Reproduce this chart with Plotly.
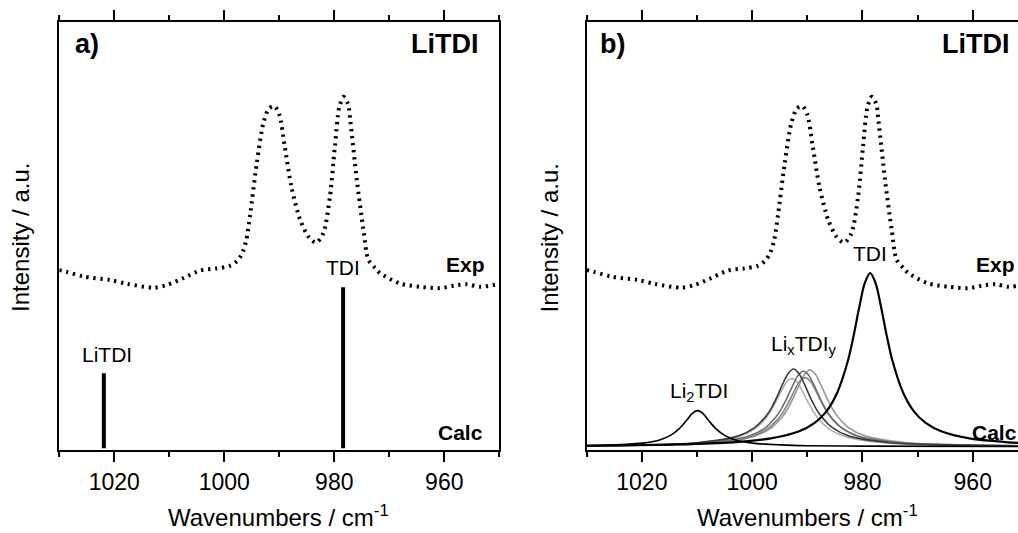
import plotly.graph_objects as go

# ---------------- data ----------------
# Experimental spectrum (same in both panels): wavenumber / intensity (a.u.)
exp_wn = [1030, 1028.7, 1025.6, 1020.8, 1017.7, 1012.9, 1010.5, 1007.5, 1004.4, 1001.4,
          999.0, 997.7, 996.8, 996.0, 995.3, 994.1, 992.9, 991.9, 990.9, 990.0,
          989.0, 987.8, 986.2, 984.7, 983.3, 982.0, 980.8, 979.9, 979.1, 978.3,
          977.5, 977.1, 975.9, 974.7, 973.8, 972.6, 971.7, 968.1, 964.4, 960.8,
          957.7, 955.9, 953.5, 950]
exp_int = [0.420, 0.416, 0.405, 0.397, 0.388, 0.379, 0.385, 0.401, 0.419, 0.424,
           0.430, 0.441, 0.458, 0.490, 0.550, 0.669, 0.763, 0.797, 0.803, 0.783,
           0.708, 0.615, 0.537, 0.498, 0.484, 0.506, 0.591, 0.708, 0.800, 0.825,
           0.808, 0.770, 0.630, 0.514, 0.444, 0.425, 0.413, 0.389, 0.381, 0.378,
           0.385, 0.387, 0.381, 0.388]

# Panel a: calculated stick spectrum
stick_wn = [1021.9, 978.4]
stick_int = [0.179, 0.380]
stick_labels = ["LiTDI", "TDI"]

# Panel b: calculated band profiles
tdi_wn = [1030, 1013.6, 1003.6, 996.6, 991.6, 988.6, 986.6, 984.6, 982.6, 981.6, 980.6,
          979.6, 978.6, 977.6, 976.6, 975.6, 974.6, 972.6, 970.6, 968.6, 965.6, 960.6,
          953.6, 950]
tdi_int = [0.010, 0.013, 0.018, 0.027, 0.043, 0.064, 0.089, 0.133, 0.210, 0.267, 0.332,
           0.389, 0.413, 0.389, 0.332, 0.267, 0.210, 0.133, 0.089, 0.064, 0.043, 0.027,
           0.018, 0.016]

li2_wn = [1030, 1024.9, 1019.9, 1016.9, 1014.9, 1013.2, 1011.9, 1010.9, 1009.9, 1008.9,
          1007.9, 1006.6, 1004.9, 1002.9, 999.9, 994.9, 989.9, 979.9, 950]
li2_int = [0.010, 0.012, 0.016, 0.023, 0.0335, 0.050, 0.069, 0.085, 0.092, 0.085,
           0.069, 0.050, 0.0335, 0.023, 0.016, 0.012, 0.010, 0.009, 0.008]

g1_wn = [1030, 1010, 1002.5, 999.5, 997.5, 996.5, 995.5, 994.5, 993.5, 992.5, 991.5,
         990.5, 989.5, 988.5, 987.5, 985.5, 982.5, 975, 965, 950]
g1_int = [0.010, 0.017, 0.033, 0.053, 0.079, 0.0985, 0.124, 0.153, 0.178, 0.189, 0.178,
          0.153, 0.124, 0.0985, 0.079, 0.053, 0.033, 0.017, 0.012, 0.0096]

g2_wn = [1030, 1008.2, 1000.7, 997.7, 995.7, 994.7, 993.7, 992.7, 991.7, 990.7, 989.7,
         988.7, 987.7, 986.7, 985.7, 983.7, 980.7, 973.2, 963.2, 950]
g2_int = [0.0098, 0.017, 0.032, 0.051, 0.077, 0.096, 0.121, 0.149, 0.174, 0.184, 0.174,
          0.149, 0.121, 0.096, 0.077, 0.051, 0.032, 0.017, 0.012, 0.0098]

g3_wn = [1030, 1007.0, 999.5, 996.5, 994.5, 993.5, 992.5, 991.5, 990.5, 989.5, 988.5,
         987.5, 986.5, 985.5, 984.5, 982.5, 979.5, 972.0, 962.0, 950]
g3_int = [0.0098, 0.017, 0.033, 0.052, 0.078, 0.0975, 0.123, 0.151, 0.176, 0.187, 0.176,
          0.151, 0.123, 0.0975, 0.078, 0.052, 0.033, 0.017, 0.012, 0.0098]

g4_wn = [1030, 1010.3, 1002.8, 999.8, 997.8, 996.8, 995.8, 994.8, 993.8, 992.8, 991.8,
         990.8, 989.8, 988.8, 987.8, 985.8, 982.8, 975.3, 965.3, 950]
g4_int = [0.0098, 0.0159, 0.030, 0.047, 0.070, 0.0875, 0.110, 0.135, 0.158, 0.167, 0.158,
          0.135, 0.110, 0.0875, 0.070, 0.047, 0.030, 0.0159, 0.011, 0.0094]

g5_wn = [1030, 1007.9, 1000.4, 997.4, 995.4, 994.4, 993.4, 992.4, 991.4, 990.4, 989.4,
         988.4, 987.4, 986.4, 985.4, 983.4, 980.4, 972.9, 962.9, 950]
g5_int = [0.0098, 0.016, 0.030, 0.048, 0.071, 0.0885, 0.111, 0.137, 0.160, 0.169, 0.160,
          0.137, 0.111, 0.0885, 0.071, 0.048, 0.030, 0.016, 0.011, 0.0094]

gray_series = [(g4_wn, g4_int, "#b0b0b0"), (g3_wn, g3_int, "#9a9a9a"),
               (g5_wn, g5_int, "#858585"), (g2_wn, g2_int, "#6e6e6e"),
               (g1_wn, g1_int, "#3c3c3c")]

tick_vals = [1020, 1000, 980, 960]
tick_text = ["1020", "1000", "980", "960"]
minor_vals = [1030, 1010, 990, 970, 950]

# ---------------- figure ----------------
W, H = 1018, 533
FONT = "Liberation Sans"
DOT = dict(color="black", width=4, dash="2.3px,4.7px", shape="spline", smoothing=0.8)

fig = go.Figure()

# panel a
fig.add_trace(go.Scatter(x=exp_wn, y=exp_int, mode="lines", xaxis="x", yaxis="y",
                         line=DOT, showlegend=False, hoverinfo="skip"))
for w, h in zip(stick_wn, stick_int):
    fig.add_trace(go.Scatter(x=[w, w], y=[0.004, h], mode="lines", xaxis="x", yaxis="y",
                             line=dict(color="black", width=4),
                             showlegend=False, hoverinfo="skip"))

# panel b
fig.add_trace(go.Scatter(x=exp_wn, y=exp_int, mode="lines", xaxis="x2", yaxis="y2",
                         line=DOT, showlegend=False, hoverinfo="skip"))
for xs, ys, col in gray_series:
    fig.add_trace(go.Scatter(x=xs, y=ys, mode="lines", xaxis="x2", yaxis="y2",
                             line=dict(color=col, width=1.6, shape="spline", smoothing=0.8),
                             showlegend=False, hoverinfo="skip"))
fig.add_trace(go.Scatter(x=li2_wn, y=li2_int, mode="lines", xaxis="x2", yaxis="y2",
                         line=dict(color="black", width=1.6, shape="spline", smoothing=0.8),
                         showlegend=False, hoverinfo="skip"))
fig.add_trace(go.Scatter(x=tdi_wn, y=tdi_int, mode="lines", xaxis="x2", yaxis="y2",
                         line=dict(color="black", width=2.2, shape="spline", smoothing=0.8),
                         showlegend=False, hoverinfo="skip"))

ydom = [1 - 450 / H, 1 - 21.7 / H]
xa_dom = [59.3 / W, 499.3 / W]
xb_dom = [586.7 / W, 1.0]
xb_right = 1030 - (W - 586.7) / 5.515

def xaxis_style(dom, rng, anchor):
    return dict(domain=dom, range=rng, anchor=anchor, tickmode="array",
                tickvals=tick_vals, ticktext=tick_text, ticks="outside", ticklen=10,
                tickwidth=2, tickcolor="black", showline=True, linewidth=2,
                linecolor="black", mirror="allticks", showgrid=False, zeroline=False,
                tickfont=dict(family=FONT, size=23, color="black"),
                minor=dict(tickmode="array", tickvals=minor_vals, ticks="outside",
                           ticklen=5, tickwidth=2, tickcolor="black", showgrid=False))

def yaxis_style(anchor, mirror):
    return dict(domain=ydom, range=[0, 1], anchor=anchor, showticklabels=False,
                ticks="", showline=True, linewidth=2, linecolor="black",
                mirror=mirror, showgrid=False, zeroline=False)

fig.update_layout(
    width=W, height=H, margin=dict(l=0, r=0, t=0, b=0),
    paper_bgcolor="white", plot_bgcolor="white",
    xaxis=xaxis_style(xa_dom, [1030, 950], "y"),
    yaxis=yaxis_style("x", True),
    xaxis2=xaxis_style(xb_dom, [1030, xb_right], "y2"),
    yaxis2=yaxis_style("x2", False),
    font=dict(family=FONT, color="black"),
)

ann = []
def add_text(xref, yref, x, y, text, size, bold=False, xanchor="center", yanchor="middle", angle=0):
    ann.append(dict(xref=xref, yref=yref, x=x, y=y, text=f"<b>{text}</b>" if bold else text,
                    showarrow=False, xanchor=xanchor, yanchor=yanchor, textangle=angle,
                    font=dict(family=FONT, size=size, color="black")))

add_text("x", "y", 953.4, 0.948, "LiTDI", 27, bold=True, xanchor="right")
add_text("x", "y", 952.3, 0.434, "Exp", 21, bold=True, xanchor="right")
add_text("x", "y", 952.6, 0.040, "Calc", 21, bold=True, xanchor="right")
add_text("x", "y", 1027.6, 0.948, "a)", 27, bold=True, xanchor="left")

add_text("x2", "y2", 952.8, 0.948, "LiTDI", 27, bold=True, xanchor="right")
add_text("x2", "y2", 952.0, 0.434, "Exp", 21, bold=True, xanchor="right")
add_text("x2", "y2", 960.5, 0.040, "Calc", 21, bold=True, xanchor="left")
add_text("x2", "y2", 1028.0, 0.948, "b)", 27, bold=True, xanchor="left")

add_text("x", "y", 978.4, 0.427, stick_labels[1], 21)
add_text("x", "y", 1021.3, 0.224, stick_labels[0], 21)
add_text("x2", "y2", 978.6, 0.458, "TDI", 21)
add_text("x2", "y2", 990.6, 0.244, "Li<sub>x</sub>TDI<sub>y</sub>", 21)
add_text("x2", "y2", 1009.6, 0.136, "Li<sub>2</sub>TDI", 21)

# axis titles
add_text("paper", "paper", 21 / W, 1 - 238 / H, "Intensity / a.u.", 24, angle=-90)
add_text("paper", "paper", 549.5 / W, 1 - 238 / H, "Intensity / a.u.", 24, angle=-90)
add_text("paper", "paper", 278.5 / W, 1 - 516 / H, "Wavenumbers / cm<sup>-1</sup>", 24)
add_text("paper", "paper", 807 / W, 1 - 516 / H, "Wavenumbers / cm<sup>-1</sup>", 24)

fig.update_layout(annotations=ann)
fig.write_html("out.html", config={"displayModeBar": False},
               post_script="document.body.style.margin='0';document.body.style.overflow='hidden';")
